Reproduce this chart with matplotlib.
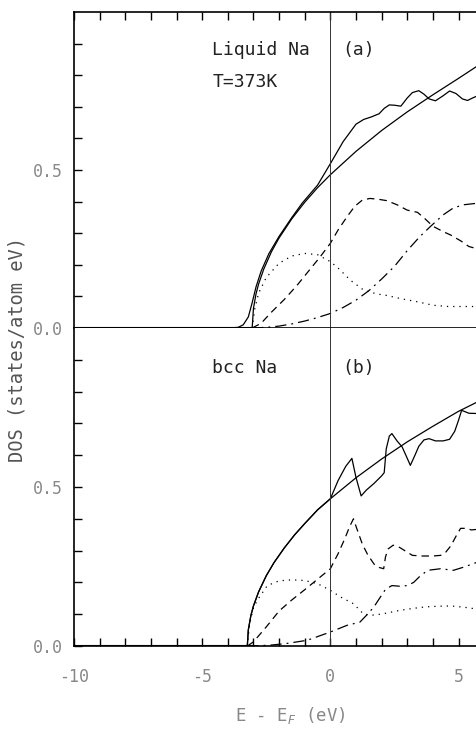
import matplotlib
matplotlib.use("Agg")
import matplotlib.pyplot as plt
import numpy as np

# ---- panel (a): liquid Na, T=373K ----
a_fe_x = [-3.05, -3.0, -2.9, -2.8, -2.6, -2.3, -2.0, -1.5, -1.0, -0.5, 0, 1, 2, 3, 4, 5, 5.75]
a_fe_y = [0, 0.062, 0.108, 0.139, 0.186, 0.241, 0.285, 0.346, 0.398, 0.444, 0.485, 0.559, 0.625, 0.684, 0.738, 0.79, 0.83]

a_tot_x = [-4.0, -3.6, -3.4, -3.2, -3.05, -2.9, -2.7, -2.4, -2.0, -1.5, -1.1, -0.5, 0, 0.5, 1.0, 1.3, 1.6, 1.9, 2.1,
           2.3, 2.5, 2.75, 3.0, 3.2, 3.45, 3.65, 3.85, 4.1, 4.4, 4.65, 4.9, 5.15, 5.35, 5.55, 5.75]
a_tot_y = [0, 0.002, 0.01, 0.035, 0.08, 0.13, 0.18, 0.235, 0.29, 0.35, 0.395, 0.452, 0.52, 0.59, 0.645, 0.66, 0.668,
           0.678, 0.695, 0.706, 0.705, 0.702, 0.728, 0.745, 0.751, 0.74, 0.725, 0.719, 0.735, 0.75, 0.742, 0.725,
           0.72, 0.728, 0.735]

a_s_x = [-3.05, -2.95, -2.8, -2.5, -2.0, -1.5, -1.0, -0.5, 0, 0.3, 0.8, 1.3, 1.8, 2.2, 2.8, 3.4, 4.0, 4.6, 5.2, 5.75]
a_s_y = [0, 0.06, 0.11, 0.16, 0.205, 0.228, 0.236, 0.232, 0.21, 0.19, 0.15, 0.12, 0.108, 0.103, 0.092, 0.083,
         0.072, 0.068, 0.068, 0.068]

a_p_x = [-3.05, -2.7, -2.3, -1.8, -1.3, -0.9, -0.4, 0, 0.3, 0.65, 0.95, 1.25, 1.55, 1.9, 2.2, 2.6, 3.0, 3.4, 3.7,
         4.0, 4.4, 4.7, 5.1, 5.4, 5.75]
a_p_y = [0, 0.015, 0.05, 0.09, 0.135, 0.175, 0.225, 0.268, 0.31, 0.352, 0.385, 0.405, 0.41, 0.407, 0.403, 0.39,
         0.373, 0.366, 0.345, 0.322, 0.305, 0.294, 0.275, 0.258, 0.25]

a_d_x = [-3.05, -2.5, -2.0, -1.5, -1.0, -0.5, 0, 0.5, 1.0, 1.5, 2.0, 2.5, 3.0, 3.5, 3.9, 4.4, 4.8, 5.2, 5.75]
a_d_y = [0, 0.002, 0.006, 0.013, 0.022, 0.033, 0.046, 0.065, 0.088, 0.118, 0.155, 0.195, 0.245, 0.29, 0.321,
         0.358, 0.38, 0.39, 0.395]

# ---- panel (b): bcc Na ----
b_fe_x = [-3.24, -3.2, -3.1, -3.0, -2.8, -2.5, -2.2, -1.8, -1.4, -1.0, -0.5, 0, 1, 2, 3, 4, 5, 5.75]
b_fe_y = [0, 0.051, 0.096, 0.126, 0.17, 0.221, 0.262, 0.308, 0.349, 0.385, 0.428, 0.463, 0.529, 0.588, 0.642,
          0.691, 0.738, 0.768]

b_tot_x = [-3.24, -3.2, -3.1, -3.0, -2.8, -2.5, -2.2, -1.8, -1.4, -1.0, -0.5, 0, 0.3, 0.6, 0.84, 1.0, 1.2, 1.4,
           1.7, 2.0, 2.1, 2.18, 2.3, 2.4, 2.6, 2.8, 3.0, 3.12, 3.3, 3.45, 3.65, 3.85, 4.1, 4.4, 4.65, 4.85, 5.0,
           5.12, 5.25, 5.4, 5.75]
b_tot_y = [0, 0.051, 0.096, 0.126, 0.17, 0.221, 0.262, 0.308, 0.349, 0.385, 0.428, 0.463, 0.52, 0.565, 0.59,
           0.53, 0.472, 0.49, 0.511, 0.535, 0.545, 0.62, 0.66, 0.668, 0.645, 0.626, 0.59, 0.568, 0.6, 0.628,
           0.648, 0.652, 0.645, 0.645, 0.65, 0.675, 0.71, 0.741, 0.737, 0.732, 0.731]

b_s_x = [-3.24, -3.15, -3.0, -2.85, -2.46, -2.0, -1.5, -1.0, -0.5, 0, 0.4, 0.9, 1.3, 1.7, 2.1, 2.7, 3.2, 3.7,
         4.2, 4.7, 5.2, 5.75]
b_s_y = [0, 0.07, 0.12, 0.144, 0.19, 0.205, 0.208, 0.206, 0.196, 0.175, 0.154, 0.133, 0.1, 0.097, 0.102, 0.112,
         0.118, 0.123, 0.125, 0.126, 0.122, 0.116]

b_p_x = [-3.24, -3.0, -2.5, -2.0, -1.5, -1.0, -0.5, 0, 0.3, 0.55, 0.75, 0.9, 1.05, 1.25, 1.45, 1.7, 1.9, 2.08,
         2.15, 2.25, 2.45, 2.7, 2.9, 3.2, 3.6, 4.0, 4.3, 4.5, 4.7, 4.9, 5.08, 5.3, 5.5, 5.75]
b_p_y = [0, 0.013, 0.06, 0.11, 0.145, 0.177, 0.21, 0.243, 0.29, 0.335, 0.375, 0.4, 0.365, 0.32, 0.288, 0.258,
         0.247, 0.243, 0.28, 0.305, 0.317, 0.31, 0.3, 0.285, 0.283, 0.283, 0.285, 0.295, 0.315, 0.345, 0.37,
         0.37, 0.365, 0.367]

b_d_x = [-3.24, -2.8, -2.3, -1.7, -0.9, 0, 0.65, 1.15, 1.45, 1.7, 2.0, 2.15, 2.4, 2.7, 3.0, 3.25, 3.5, 3.8,
         4.3, 4.8, 5.2, 5.75]
b_d_y = [0, 0.001, 0.003, 0.008, 0.018, 0.044, 0.065, 0.075, 0.1, 0.123, 0.16, 0.178, 0.19, 0.188, 0.19, 0.2,
         0.22, 0.238, 0.243, 0.238, 0.248, 0.264]

x_ticks = [-10, -5, 0, 5]
x_ticklabels = ["-10", "-5", "0", "5"]
y_ticks = [0.0, 0.5]
y_ticklabels = ["0.0", "0.5"]

mono = "DejaVu Sans Mono"
plt.rcParams["font.family"] = mono

fig = plt.figure(figsize=(4.77, 7.31), dpi=100)
L, W = 74 / 477, 403 / 477
ax_a = fig.add_axes([L, 1 - 328 / 731, W, 316 / 731])
ax_b = fig.add_axes([L, 1 - 646 / 731, W, 318 / 731])

dash = (0, (6, 4))
dashdot = (0, (9, 4, 1.5, 4))
dotted = (0, (1, 4))

def draw(ax, fe, tot, s, p, d):
    ax.plot(fe[0], fe[1], color="black", lw=0.9)
    ax.plot(tot[0], tot[1], color="black", lw=0.9)
    ax.plot(s[0], s[1], color="black", lw=0.9, linestyle=dotted)
    ax.plot(p[0], p[1], color="black", lw=0.9, linestyle=dash)
    ax.plot(d[0], d[1], color="black", lw=0.9, linestyle=dashdot)
    ax.axvline(0, color="#333333", lw=0.7)
    ax.plot([-10, -3.05], [0, 0], color="black", lw=1.5)
    ax.set_xlim(-10, 5.72)
    ax.set_ylim(0, 1.0)
    ax.spines["right"].set_visible(False)
    for sp in ["left", "top", "bottom"]:
        ax.spines[sp].set_linewidth(1.2)
    ax.set_xticks(np.arange(-10, 6, 1), minor=True)
    ax.set_yticks(np.arange(0, 1.0, 0.1), minor=True)
    ax.set_yticks(y_ticks)
    ax.set_yticklabels(y_ticklabels, fontsize=12, color="#888888")
    ax.tick_params(which="both", direction="in", length=6, width=1.0, left=True, right=False)

draw(ax_a, (a_fe_x, a_fe_y), (a_tot_x, a_tot_y), (a_s_x, a_s_y), (a_p_x, a_p_y), (a_d_x, a_d_y))
draw(ax_b, (b_fe_x, b_fe_y), (b_tot_x, b_tot_y), (b_s_x, b_s_y), (b_p_x, b_p_y), (b_d_x, b_d_y))

ax_a.set_xticks(x_ticks)
ax_a.tick_params(which="both", top=True, bottom=False, labelbottom=False)
ax_b.spines["top"].set_visible(False)
ax_b.set_xticks(x_ticks)
ax_b.set_xticklabels(x_ticklabels, fontsize=12, color="#888888")
ax_b.tick_params(axis="x", which="both", top=False, bottom=True, pad=16)
ax_a.tick_params(axis="y", pad=8)
ax_b.tick_params(axis="y", pad=8)

ax_a.text(-4.6, 0.88, "Liquid Na", fontsize=13, ha="left", va="center", color="#222222")
ax_a.text(0.45, 0.88, "(a)", fontsize=13, ha="left", va="center", color="#222222")
ax_a.text(-4.6, 0.78, "T=373K", fontsize=13, ha="left", va="center", color="#222222")
ax_b.text(-4.6, 0.875, "bcc Na", fontsize=13, ha="left", va="center", color="#222222")
ax_b.text(0.45, 0.875, "(b)", fontsize=13, ha="left", va="center", color="#222222")

fig.text(17 / 477, 1 - 350 / 731, "DOS (states/atom eV)", rotation=90, fontsize=13.5,
         ha="center", va="center", color="#555555")
fig.text(290 / 477, 1 - 716 / 731, r"E - E$_F$ (eV)", fontsize=12.5, ha="center", va="center",
         color="#888888")

fig.savefig("out.png", dpi=100, facecolor="white")
